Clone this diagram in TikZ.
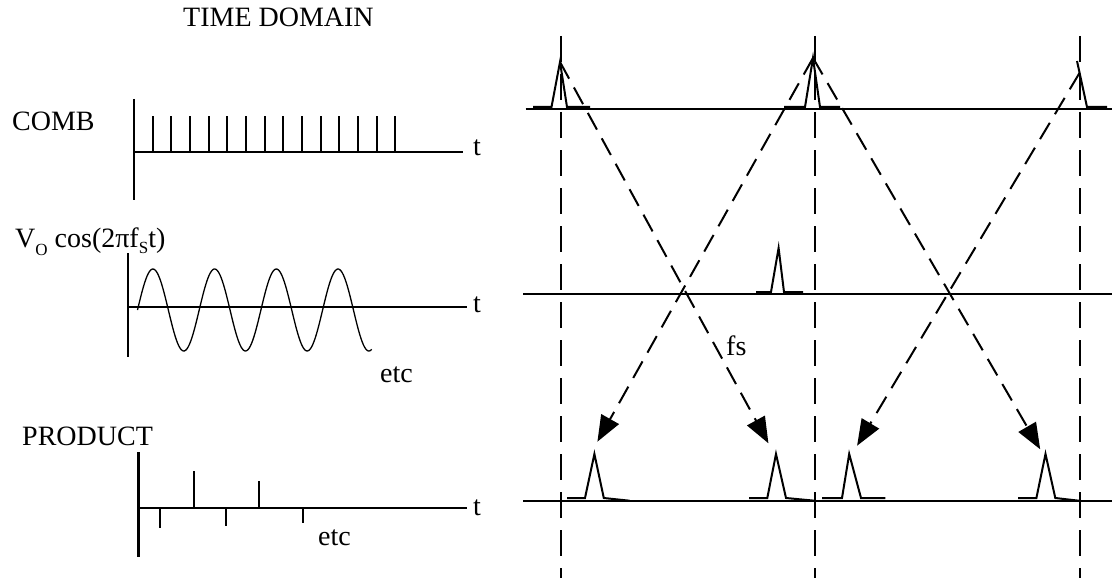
\documentclass[tikz,border=0pt]{standalone}
\usepackage{fontspec}
\setmainfont{Liberation Serif}
\usetikzlibrary{arrows.meta}
\begin{document}
\begin{tikzpicture}[x=1pt,y=-1pt,
  axis/.style={line width=2.4pt},
  tooth/.style={line width=2.2pt},
  wave/.style={line width=1.3pt},
  pulse/.style={line width=2pt,line join=miter},
  grid/.style={line width=2pt,dash pattern=on 26pt off 12pt},
  map/.style={line width=2pt,dash pattern=on 19pt off 10pt,-{Triangle[length=26pt,width=20pt]}},
  lbl/.style={inner sep=0pt,anchor=base west,font=\fontsize{28}{32}\selectfont}]
\path[use as bounding box] (0,0) rectangle (1112,578);

% ---- left: time domain ----
\node[lbl] (title) at (183,27) {TIME DOMAIN};

% COMB
\node[lbl] (comb) at (12,130) {COMB};
\draw[axis] (134,99) -- (134,200);
\draw[axis] (134,152) -- (463,152);
\node[lbl] (t1) at (473,155) {t};
\foreach \i in {0,...,13}{
  \draw[tooth] ({152.7+\i*18.66},116) -- ({152.7+\i*18.66},152);
}

% cosine
\node[lbl] (cosl) at (15,247) {V\raisebox{-8pt}{\fontsize{17}{17}\selectfont O} cos(2π{}f\raisebox{-6pt}{\fontsize{17}{17}\selectfont S}t)};
\draw[axis] (127.7,253) -- (127.7,357);
\draw[axis] (127.7,307) -- (467,307);
\draw[line width=2.9pt] (333,307) -- (430,307);
\node[lbl] (t2) at (473,312) {t};
\draw[wave,domain=0:3.796,samples=200,smooth] plot ({137.5+61.7*\x},{310-41*sin(360*\x)});
\node[lbl] (etc1) at (380,382) {etc};

% PRODUCT
\node[lbl] (prod) at (22,445) {PRODUCT};
\draw[axis] (138.3,452) -- (138.3,557);
\draw[axis] (138.3,507.7) -- (467,507.7);
\node[lbl] (t3) at (473,515) {t};
\draw[tooth] (194,507.7) -- (194,470.7);
\draw[tooth] (259.3,507.7) -- (259.3,480.7);
\draw[tooth] (160.3,507.7) -- (160.3,528);
\draw[tooth] (225.7,507.7) -- (225.7,525.7);
\draw[tooth] (302.7,507.7) -- (302.7,523.3);
\node[lbl] (etc2) at (318,545) {etc};

% ---- right: frequency domain ----
\draw[axis] (525.7,109) -- (1112,109);
\draw[axis] (523,294) -- (1112,294);
\draw[axis] (523,500.7) -- (1112,500.7);

\draw[grid] (560.5,36) -- (560.5,578);
\draw[grid] (815,36) -- (815,578);
\draw[grid] (1080,36) -- (1080,578);

% pulses on top line
\coordinate (p1) at (560,62);
\coordinate (p2) at (813,58);
\coordinate (p3) at (1079.5,73);
\draw[pulse] (533,107) -- (551.5,107) -- (p1) -- (567,107) -- (590,107);
\draw[pulse] (784,107) -- (805,107) -- (p2) -- (820,107) -- (840,107);
\draw[pulse] (1077,61) -- (1087,107) -- (1107,107);

% pulse on middle line
\draw[pulse] (756,292) -- (771,292) -- (778.6,248) -- (784,292) -- (803,292);

% pulses on bottom line
\draw[pulse] (567,498) -- (585,498) -- (594.4,454) -- (603.8,498) -- (629.5,500.7);
\draw[pulse] (749,498) -- (767.3,498) -- (776,454) -- (786,498) -- (814.5,500.7);
\draw[pulse] (822,498) -- (842,498) -- (849.2,454) -- (861,498) -- (885.4,498);
\draw[pulse] (1018,498) -- (1036.4,498) -- (1045.5,454) -- (1055.3,498) -- (1078.7,500.7);

% mapping arrows
\coordinate (a1) at (597.4,441.7);
\coordinate (a2) at (768.4,443.3);
\coordinate (a3) at (857.1,445.7);
\coordinate (a4) at (1040.2,449.3);
\draw[map] (p1) -- (a2);
\draw[map] (p2) -- (a1);
\draw[map] (p2) -- (a4);
\draw[map] (p3) -- (a3);

\node[lbl] (fs) at (726,355) {fs};
\end{tikzpicture}
\end{document}
